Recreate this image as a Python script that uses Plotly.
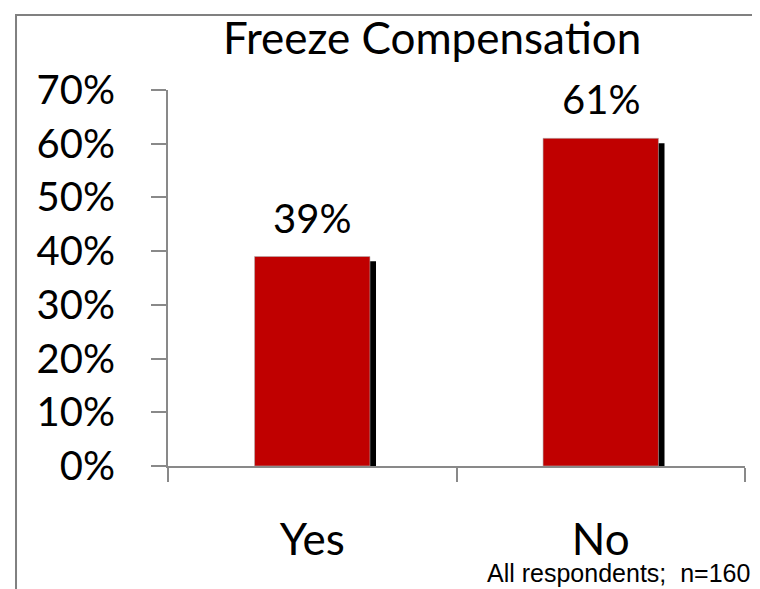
import plotly.graph_objects as go

categories = ["Yes", "No"]
values = [0.39, 0.61]
value_labels = ["39%", "61%"]
tick_vals = [0, 0.1, 0.2, 0.3, 0.4, 0.5, 0.6, 0.7]
tick_text = ["0%", "10%", "20%", "30%", "40%", "50%", "60%", "70%"]
title_text = "Freeze Compensation"
note_text = "All respondents;  n=160"

FONT = "Lato, 'Open Sans', sans-serif"
AXIS_GRAY = "#898989"

fig = go.Figure()

# drop shadow
fig.add_trace(go.Bar(
    x=categories, y=values, base=[-0.009] * len(values),
    width=0.4, offset=-0.179,
    marker=dict(color="#000000", line=dict(width=0)),
    hoverinfo="skip", showlegend=False,
))
# main bars
fig.add_trace(go.Bar(
    x=categories, y=values,
    width=0.4, offset=-0.2,
    marker=dict(color="#C00000", line=dict(color="#b0b0b0", width=0.6)),
    showlegend=False,
))

for c, v, t in zip(categories, values, value_labels):
    fig.add_annotation(x=c, y=v, text=t, showarrow=False, yanchor="bottom",
                       yshift=13, font=dict(family=FONT, size=40, color="#000"))

fig.add_annotation(xref="paper", yref="paper", x=0.458, y=1.14, text=title_text,
                   showarrow=False, xanchor="center", yanchor="middle",
                   font=dict(family=FONT, size=44, color="#000"))

fig.add_annotation(xref="paper", yref="paper", x=1.012, y=-0.285, text=note_text,
                   showarrow=False, xanchor="right", yanchor="middle",
                   font=dict(family="'Liberation Sans', Arial, sans-serif", size=25, color="#000"))

# outer frame
fig.add_shape(type="rect", xref="paper", yref="paper",
              x0=-0.2634, x1=1.026, y0=-0.5, y1=1.1995,
              line=dict(color="#808080", width=2), layer="below")

fig.update_layout(
    width=760, height=589,
    margin=dict(l=160, r=23, t=82, b=131),
    paper_bgcolor="white", plot_bgcolor="white",
    barmode="overlay",
    font=dict(family=FONT, color="#000"),
)
fig.update_xaxes(
    type="category", showgrid=False, zeroline=False,
    showline=True, linecolor=AXIS_GRAY, linewidth=2,
    ticks="outside", tickson="boundaries", ticklen=14, tickwidth=2, tickcolor=AXIS_GRAY,
    tickfont=dict(family=FONT, size=44, color="#000"),
    ticklabelstandoff=34,
    range=[-0.5, 1.5],
)
fig.update_yaxes(
    range=[0, 0.7], tickvals=tick_vals, ticktext=tick_text,
    showgrid=False, zeroline=False,
    showline=True, linecolor=AXIS_GRAY, linewidth=2,
    ticks="outside", ticklen=15, tickwidth=2, tickcolor=AXIS_GRAY,
    tickfont=dict(family=FONT, size=40, color="#000"),
    ticklabelstandoff=28,
)

fig.write_html("out.html")
